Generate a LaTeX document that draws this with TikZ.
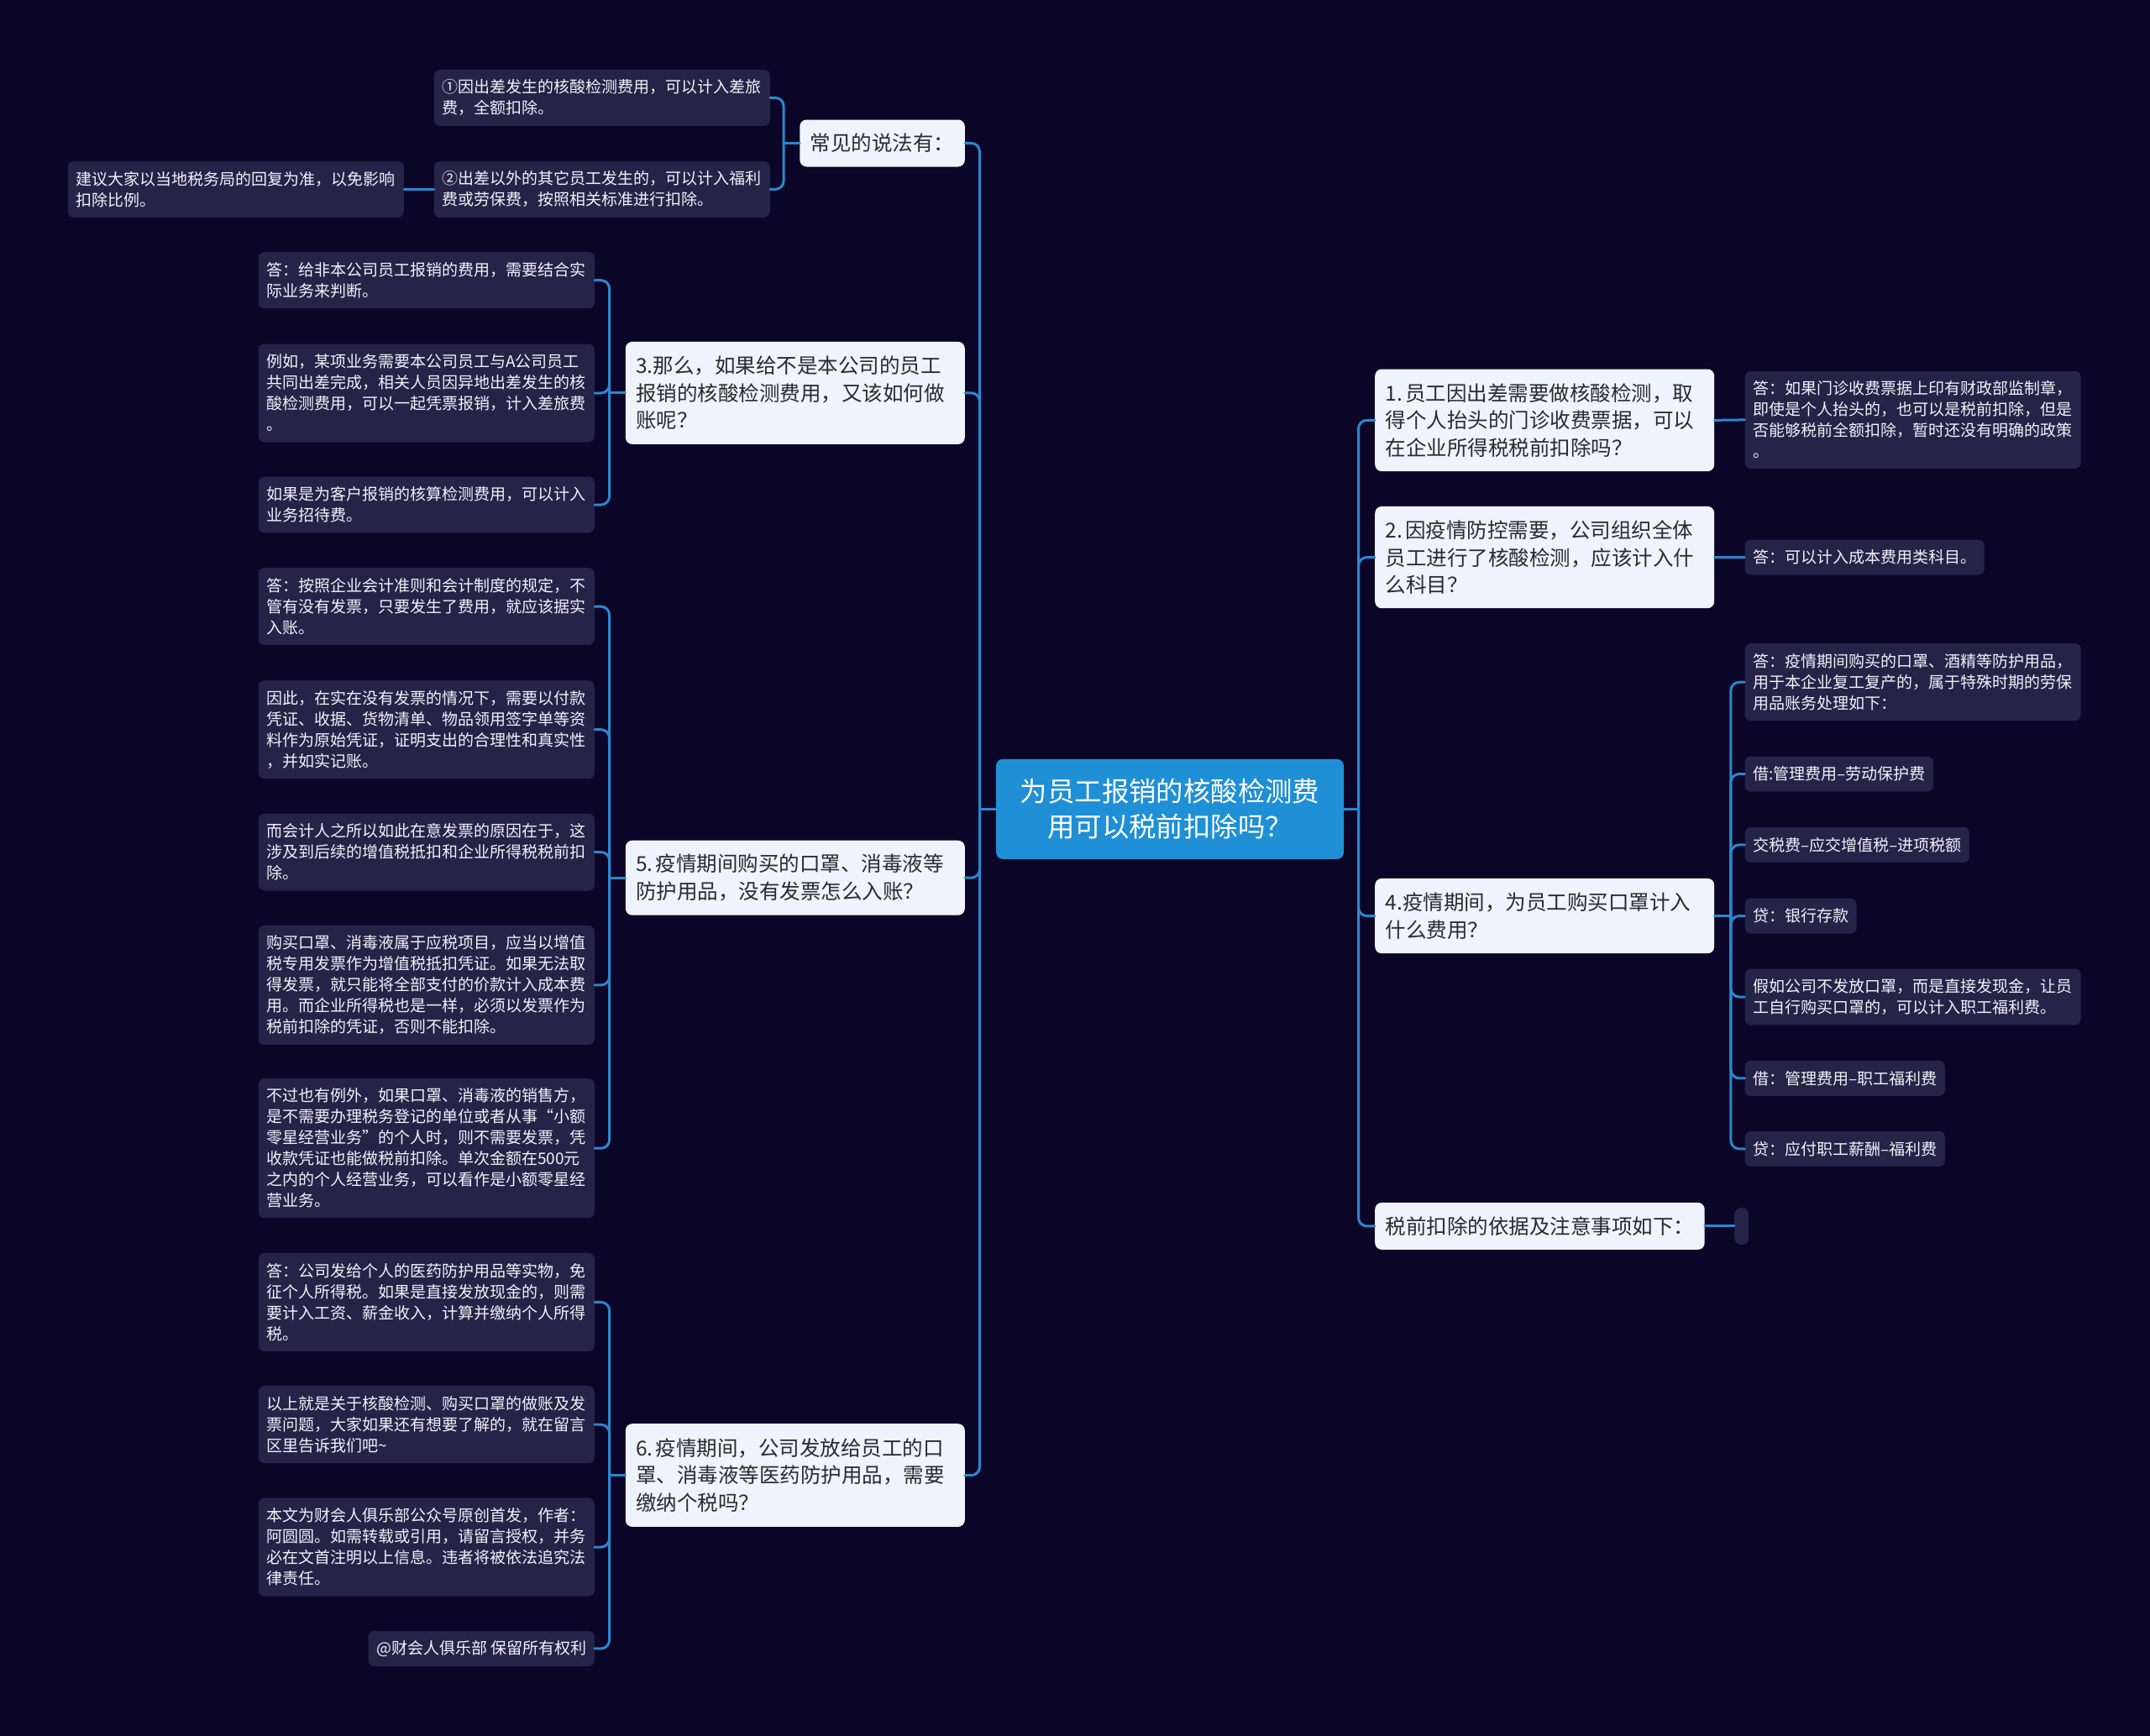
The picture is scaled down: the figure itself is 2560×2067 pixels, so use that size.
\documentclass[tikz,border=0pt]{standalone}
\usepackage{fontspec}
\setmainfont{Noto Sans CJK SC}
\usetikzlibrary{calc}
\definecolor{bgc}{HTML}{0B0628}
\definecolor{leafc}{HTML}{262348}
\definecolor{leaftext}{HTML}{F2F2F7}
\definecolor{topicc}{HTML}{EEF3FC}
\definecolor{topictext}{HTML}{2A2A2A}
\definecolor{rootc}{HTML}{1F8FD6}
\definecolor{linec}{HTML}{2B87CD}
\newcommand{\leaffont}{\fontsize{19}{25}\selectfont}
\newcommand{\topicfont}{\fontsize{24.5}{32.7}\selectfont}
\newcommand{\rootfont}{\fontsize{32.4}{41.7}\selectfont}
\newcommand{\nsp}{\hspace{0.12em}}
\begin{document}
\begin{tikzpicture}[x=1pt,y=-1pt,
  leaf/.style={fill=leafc, rounded corners=7pt, text=leaftext, font=\leaffont, align=left, inner xsep=9.5pt, inner ysep=0pt},
  leafw/.style={leaf, text width=381pt},
  topic/.style={fill=topicc, rounded corners=8pt, text=topictext, font=\topicfont, align=left, inner xsep=12.5pt, inner ysep=0pt},
  topicw/.style={topic, text width=379pt},
  central/.style={fill=rootc, rounded corners=8pt, text=white, font=\rootfont, align=center, minimum width=414pt, minimum height=119pt, inner sep=0pt},
  conn/.style={draw=linec, line width=3pt, rounded corners=10pt, line cap=round}]
\fill[bgc] (0,0) rectangle (2560,2067);
\useasboundingbox (0,0) rectangle (2560,2067);

% root
\node[central] (root) at (1393,963.3) {为员工报销的核酸检测费\\用可以税前扣除吗？};

% left topics
\node[topic, anchor=north east, minimum height=56pt] (A) at (1149,142.3) {常见的说法有：};
\node[topicw, anchor=north east, minimum height=122pt] (B) at (1149,406.7) {3.那么，如果给不是本公司的员工\\报销的核酸检测费用，又该如何做\\账呢？};
\node[topicw, anchor=north east, minimum height=89pt] (C) at (1149,1000.5) {5.\nsp 疫情期间购买的口罩、消毒液等\\防护用品，没有发票怎么入账？};
\node[topicw, anchor=north east, minimum height=122.7pt] (D) at (1149,1695) {6.\nsp 疫情期间，公司发放给员工的口\\罩、消毒液等医药防护用品，需要\\缴纳个税吗？};

% right topics
\node[topicw, anchor=north west, minimum height=121.7pt] (E) at (1637,439.3) {1.\nsp 员工因出差需要做核酸检测，取\\得个人抬头的门诊收费票据，可以\\在企业所得税税前扣除吗？};
\node[topicw, anchor=north west, minimum height=121.3pt] (F) at (1637,602.7) {2.\nsp 因疫情防控需要，公司组织全体\\员工进行了核酸检测，应该计入什\\么科目？};
\node[topicw, anchor=north west, minimum height=89.3pt] (G) at (1637,1045.7) {4.疫情期间，为员工购买口罩计入\\什么费用？};
\node[topic, anchor=north west, minimum height=56pt] (H) at (1637,1431.7) {税前扣除的依据及注意事项如下：};

% leaves of A
\node[leafw, anchor=north east, minimum height=67pt] (A1) at (917,82.7) {①因出差发生的核酸检测费用，可以计入差旅\\费，全额扣除。};
\node[leafw, anchor=north east, minimum height=67pt] (A2) at (917,191.7) {②出差以外的其它员工发生的，可以计入福利\\费或劳保费，按照相关标准进行扣除。};
\node[leafw, anchor=north east, minimum height=67pt] (A2a) at (481,191.7) {建议大家以当地税务局的回复为准，以免影响\\扣除比例。};

% leaves of B
\node[leafw, anchor=north east, minimum height=67pt] (B1) at (708,300) {答：给非本公司员工报销的费用，需要结合实\\际业务来判断。};
\node[leafw, anchor=north east, minimum height=117pt] (B2) at (708,409.3) {例如，某项业务需要本公司员工与A公司员工\\共同出差完成，相关人员因异地出差发生的核\\酸检测费用，可以一起凭票报销，计入差旅费\\。};
\node[leafw, anchor=north east, minimum height=67pt] (B3) at (708,567.3) {如果是为客户报销的核算检测费用，可以计入\\业务招待费。};

% leaves of C
\node[leafw, anchor=north east, minimum height=92pt] (C1) at (708,676) {答：按照企业会计准则和会计制度的规定，不\\管有没有发票，只要发生了费用，就应该据实\\入账。};
\node[leafw, anchor=north east, minimum height=117pt] (C2) at (708,810) {因此，在实在没有发票的情况下，需要以付款\\凭证、收据、货物清单、物品领用签字单等资\\料作为原始凭证，证明支出的合理性和真实性\\，并如实记账。};
\node[leafw, anchor=north east, minimum height=92pt] (C3) at (708,968.3) {而会计人之所以如此在意发票的原因在于，这\\涉及到后续的增值税抵扣和企业所得税税前扣\\除。};
\node[leafw, anchor=north east, minimum height=142pt] (C4) at (708,1101.7) {购买口罩、消毒液属于应税项目，应当以增值\\税专用发票作为增值税抵扣凭证。如果无法取\\得发票，就只能将全部支付的价款计入成本费\\用。而企业所得税也是一样，必须以发票作为\\税前扣除的凭证，否则不能扣除。};
\node[leafw, anchor=north east, minimum height=166pt] (C5) at (708,1284) {不过也有例外，如果口罩、消毒液的销售方，\\是不需要办理税务登记的单位或者从事“小额\\零星经营业务”的个人时，则不需要发票，凭\\收款凭证也能做税前扣除。单次金额在500元\\之内的个人经营业务，可以看作是小额零星经\\营业务。};

% leaves of D
\node[leafw, anchor=north east, minimum height=117pt] (D1) at (708,1491.7) {答：公司发给个人的医药防护用品等实物，免\\征个人所得税。如果是直接发放现金的，则需\\要计入工资、薪金收入，计算并缴纳个人所得\\税。};
\node[leafw, anchor=north east, minimum height=92pt] (D2) at (708,1650) {以上就是关于核酸检测、购买口罩的做账及发\\票问题，大家如果还有想要了解的，就在留言\\区里告诉我们吧\textasciitilde};
\node[leafw, anchor=north east, minimum height=117pt] (D3) at (708,1783.3) {本文为财会人俱乐部公众号原创首发，作者：\\阿圆圆。如需转载或引用，请留言授权，并务\\必在文首注明以上信息。违者将被依法追究法\\律责任。};
\node[leaf, anchor=north east, minimum height=42pt] (D4) at (708,1941.7) {@财会人俱乐部 保留所有权利};

% leaves of E, F
\node[leafw, anchor=north west, minimum height=116pt] (E1) at (2077.4,441.7) {答：如果门诊收费票据上印有财政部监制章，\\即使是个人抬头的，也可以是税前扣除，但是\\否能够税前全额扣除，暂时还没有明确的政策\\。};
\node[leaf, anchor=north west, minimum height=42pt] (F1) at (2077.4,642.3) {答：可以计入成本费用类科目。};

% leaves of G
\node[leafw, anchor=north west, minimum height=92pt] (G1) at (2077.4,766) {答：疫情期间购买的口罩、酒精等防护用品，\\用于本企业复工复产的，属于特殊时期的劳保\\用品账务处理如下：};
\node[leaf, anchor=north west, minimum height=42pt] (G2) at (2077.4,900.3) {借:管理费用–劳动保护费};
\node[leaf, anchor=north west, minimum height=42pt] (G3) at (2077.4,984.7) {交税费–应交增值税–进项税额};
\node[leaf, anchor=north west, minimum height=42pt] (G4) at (2077.4,1069.3) {贷：银行存款};
\node[leafw, anchor=north west, minimum height=67pt] (G5) at (2077.4,1153.3) {假如公司不发放口罩，而是直接发现金，让员\\工自行购买口罩的，可以计入职工福利费。};
\node[leaf, anchor=north west, minimum height=42pt] (G6) at (2077.4,1262.7) {借：管理费用–职工福利费};
\node[leaf, anchor=north west, minimum height=42pt] (G7) at (2077.4,1346.7) {贷：应付职工薪酬–福利费};

% leaf of H
\node[fill=leafc, rounded corners=8pt, inner sep=0pt, minimum width=17pt, minimum height=44pt, anchor=north west] (H1) at (2065,1437.7) {};

% connectors
\coordinate (LT) at ($(root.west)+(-19.3,0)$);
\coordinate (RT) at ($(root.east)+(17.3,0)$);
\draw[conn] (root.west) -- (LT);
\draw[conn] (root.east) -- (RT);
\foreach \n in {A,B,C,D} \draw[conn] (LT) |- (\n.east);
\foreach \n in {E,F,G,H} \draw[conn] (RT) |- (\n.west);

\coordinate (Ab) at ($(A.west)+(-19,0)$);
\draw[conn] (A.west) -- (Ab);
\foreach \n in {A1,A2} \draw[conn] (Ab) |- (\n.east);
\draw[conn] (A2.west) -- (A2a.east);

\coordinate (Bb) at ($(B.west)+(-19,0)$);
\draw[conn] (B.west) -- (Bb);
\foreach \n in {B1,B2,B3} \draw[conn] (Bb) |- (\n.east);

\coordinate (Cb) at ($(C.west)+(-19,0)$);
\draw[conn] (C.west) -- (Cb);
\foreach \n in {C1,C2,C3,C4,C5} \draw[conn] (Cb) |- (\n.east);

\coordinate (Db) at ($(D.west)+(-19,0)$);
\draw[conn] (D.west) -- (Db);
\foreach \n in {D1,D2,D3,D4} \draw[conn] (Db) |- (\n.east);

\draw[conn] (E.east) -- (E1.west);
\draw[conn] (F.east) -- (F1.west);

\coordinate (Gb) at ($(G.east)+(19.5,0)$);
\draw[conn] (G.east) -- (Gb);
\foreach \n in {G1,G2,G3,G4,G5,G6,G7} \draw[conn] (Gb) |- (\n.west);

\draw[conn] (H.east) -- (H1.west);
\end{tikzpicture}
\end{document}
